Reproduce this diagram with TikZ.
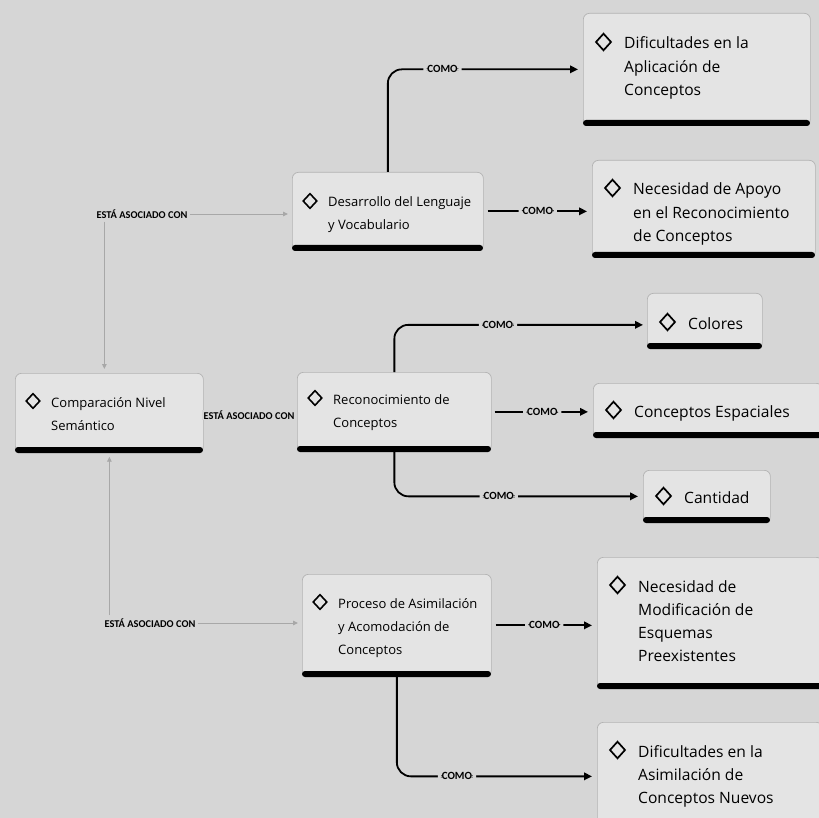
\documentclass[tikz,border=0pt]{standalone}
\usepackage{fontspec}
\setmainfont{Open Sans}
\newfontfamily\labelfont{Carlito}
\usetikzlibrary{arrows.meta,calc}

\definecolor{bg}{HTML}{D6D6D6}
\definecolor{boxfill}{HTML}{E4E4E4}
\definecolor{boxline}{HTML}{B3B3B3}
\definecolor{assocgray}{HTML}{A8A8A8}

\tikzset{
  conceptbox/.style={draw=boxline, fill=boxfill, rounded corners=6pt, line width=0.7pt,
    anchor=north west, inner sep=0pt},
  concepttext/.style={anchor=base west, inner sep=0pt, font=\fontsize{13}{23}\selectfont},
  leaftext/.style={anchor=base west, inner sep=0pt, font=\fontsize{15.6}{23.3}\selectfont},
  diamark/.pic={\draw[line width=1.6pt, line join=miter] (-6.8,0) -- (0,-7.3) -- (6.8,0) -- (0,7.3) -- cycle;},
  leafmark/.pic={\draw[line width=1.7pt, line join=miter] (-7.5,0) -- (0,-8.3) -- (7.5,0) -- (0,8.3) -- cycle;},
  link/.style={draw=black, line width=1.8pt, rounded corners=14pt,
    -{Triangle[length=8pt,width=7.5pt]}},
  comolab/.style={fill=bg, inner xsep=4pt, inner ysep=1pt,
    font=\labelfont\bfseries\fontsize{11}{12}\selectfont},
  assoc/.style={draw=assocgray, line width=0.9pt, -{Triangle[length=5pt,width=4.5pt]}},
  assoclab/.style={fill=bg, inner xsep=2pt, inner ysep=1pt,
    font=\labelfont\bfseries\fontsize{10.4}{12}\selectfont},
}

% box outline with its dark base strip: name, left, top, right, bottom
\newcommand\boxshape[5]{%
  \node[conceptbox, minimum width={#4-#2}, minimum height={#5-#3}] (#1) at (#2,#3) {};
  \fill[black, rounded corners=3pt] (#2,{#5-5}) rectangle (#4,{#5+1});
}
% inner concept: name, left, top, right, bottom, first baseline, lines of text
\newcommand\concept[7]{%
  \boxshape{#1}{#2}{#3}{#4}{#5}
  \pic at ({#2+18},{#6-6}) {diamark};
  \node[concepttext] (#1-t) at ({#2+36},#6) {\begin{tabular}[t]{@{}l@{}}#7\end{tabular}};
}
% leaf concept: same arguments, larger type
\newcommand\leaf[7]{%
  \boxshape{#1}{#2}{#3}{#4}{#5}
  \pic at ({#2+20.5},{#6-7}) {leafmark};
  \node[leaftext] (#1-t) at ({#2+41},#6) {\begin{tabular}[t]{@{}l@{}}#7\end{tabular}};
}

\begin{document}
\begin{tikzpicture}[x=1pt, y=-1pt]
  \useasboundingbox (0,0) rectangle (819,818);
  \clip (0,0) rectangle (819,818);
  \fill[bg] (0,0) rectangle (819,818);

  % root and second level
  \concept{root}{15}{373}{203}{452}{407}{Comparación Nivel\\Semántico}
  \concept{des}{292}{172}{483}{250}{207}{Desarrollo del Lenguaje\\y Vocabulario}
  \concept{rec}{297}{372}{491}{451}{404}{Reconocimiento de\\Conceptos}
  \concept{pro}{302}{574}{491}{676}{608}{Proceso de Asimilación\\y Acomodación de\\Conceptos}

  % leaves
  \leaf{difa}{583}{13}{810}{125}{49}{Dificultades en la\\Aplicación de\\Conceptos}
  \leaf{neca}{592}{160}{815}{257}{195}{Necesidad de Apoyo\\en el Reconocimiento\\de Conceptos}
  \leaf{col}{647}{293}{762}{348}{329}{Colores}
  \leaf{esp}{593}{383}{822}{437}{417}{Conceptos Espaciales}
  \leaf{can}{643}{470}{770}{522}{503}{Cantidad}
  \leaf{necb}{597}{557}{822}{688}{592}{Necesidad de\\Modificación de\\Esquemas\\Preexistentes}
  \leaf{difb}{597}{722}{822}{830}{757}{Dificultades en la\\Asimilación de\\Conceptos Nuevos}

  % association labels from the root
  \node[assoclab] (laba) at (142,214) {ESTÁ ASOCIADO CON};
  \node[assoclab] (labb) at (249,415) {ESTÁ ASOCIADO CON};
  \node[assoclab] (labc) at (150,623) {ESTÁ ASOCIADO CON};

  \draw[assoc, shorten >=4pt] (laba.east) -- (laba.east -| des.west);
  \draw[assoc, shorten <=2pt, shorten >=4pt] ([xshift=10pt]laba.south west) -- ([xshift=10pt]laba.south west |- root.north);
  \draw[assoc, shorten >=4pt] (labc.east) -- (labc.east -| pro.west);
  \draw[assoc, shorten <=2pt, shorten >=4pt] ([xshift=7pt]labc.north west) -- ([xshift=7pt]labc.north west |- root.south);

  % "COMO" links
  \draw[link, shorten >=5pt] (des.north) |- node[comolab, pos=0.64] {COMO} (difa.west);
  \draw[link, shorten <=4pt, shorten >=5pt] (des.east) -- node[comolab] {COMO} (des.east -| neca.west);
  \draw[link, shorten >=4pt] (rec.north) |- node[comolab, pos=0.705] {COMO} ([yshift=-4pt]col.west);
  \draw[link, shorten <=3pt, shorten >=5pt] (rec.east) -- node[comolab] {COMO} (rec.east -| esp.west);
  \draw[link, shorten >=5pt] (rec.south) |- node[comolab, pos=0.71] {COMO} (can.west);
  \draw[link, shorten <=4pt, shorten >=5pt] (pro.east) -- node[comolab] {COMO} (pro.east -| necb.west);
  \draw[link, shorten >=5pt] (pro.south) |- node[comolab, pos=0.65] {COMO} (difb.west);
\end{tikzpicture}
\end{document}
